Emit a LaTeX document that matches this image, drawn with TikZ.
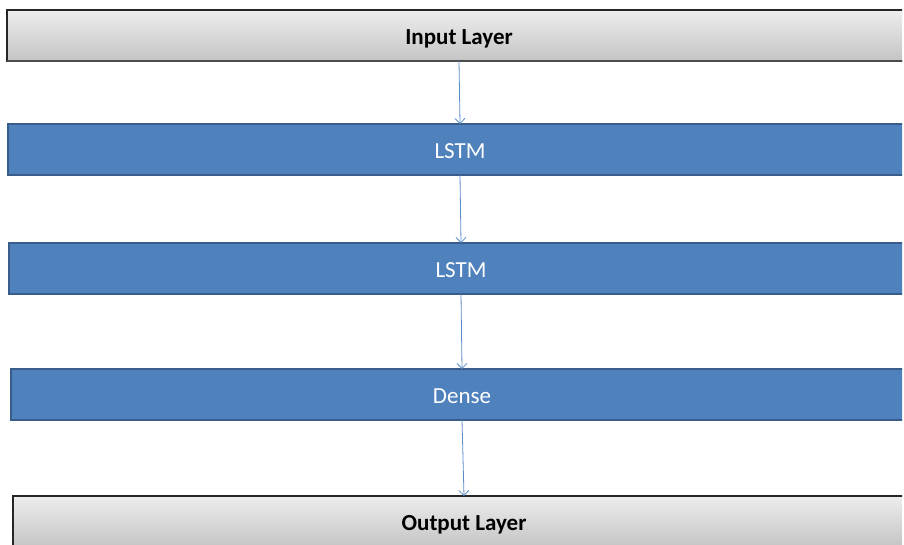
\documentclass[tikz,border=0pt]{standalone}
\usepackage{fontspec}
\setmainfont{Carlito}
\usetikzlibrary{arrows.meta}

\definecolor{layerblue}{RGB}{79,129,189}
\definecolor{layeredge}{RGB}{56,93,138}
\definecolor{linkblue}{RGB}{92,140,200}

\begin{document}
\begin{tikzpicture}[x=1pt, y=-1pt,
		greybox/.style={draw=black!85, line width=1.3pt, top color=black!7, bottom color=black!23},
		bluebox/.style={draw=layeredge, line width=1.5pt, fill=layerblue},
		greyshadow/.style={draw=black!70, line width=2.2pt},
		layer/.style={minimum height=51pt, inner sep=0pt, outer sep=0pt,
			text height=20pt, text depth=3pt, font=\fontsize{23}{27}\selectfont},
		greylayer/.style={layer, font=\fontsize{23}{27}\selectfont\bfseries},
		bluelayer/.style={layer, text=white},
		link/.style={-{Straight Barb[length=5pt,width=10pt]}, draw=linkblue, line width=0.8pt}]
		\useasboundingbox (0,0) rectangle (904,544);
		\clip (0,0) rectangle (902,544);
		% layer bars, running off the right side
		\draw[greybox] (7,10) rectangle ++(1000,51);
		\draw[greyshadow] (7,61) -- ++(1000,0);
		\draw[bluebox] (8,124) rectangle ++(1000,51);
		\draw[bluebox] (9,243) rectangle ++(1000,51);
		\draw[bluebox] (11,369) rectangle ++(1000,51);
		\draw[greybox] (13,496) rectangle ++(1000,51);
		% labels
		\node[greylayer] (input) at (459,35.5) {Input Layer};
		\node[bluelayer] (lstmA) at (460,149.5) {LSTM};
		\node[bluelayer] (lstmB) at (461,268.5) {LSTM};
		\node[bluelayer] (dense) at (462,394.5) {Dense};
		\node[greylayer] (output) at (464,521.5) {Output Layer};
		% connections
		\draw[link] (input.south) -- (lstmA.north);
		\draw[link] (lstmA.south) -- (lstmB.north);
		\draw[link] (lstmB.south) -- (dense.north);
		\draw[link] (dense.south) -- (output.north);
	\end{tikzpicture}
\end{document}
